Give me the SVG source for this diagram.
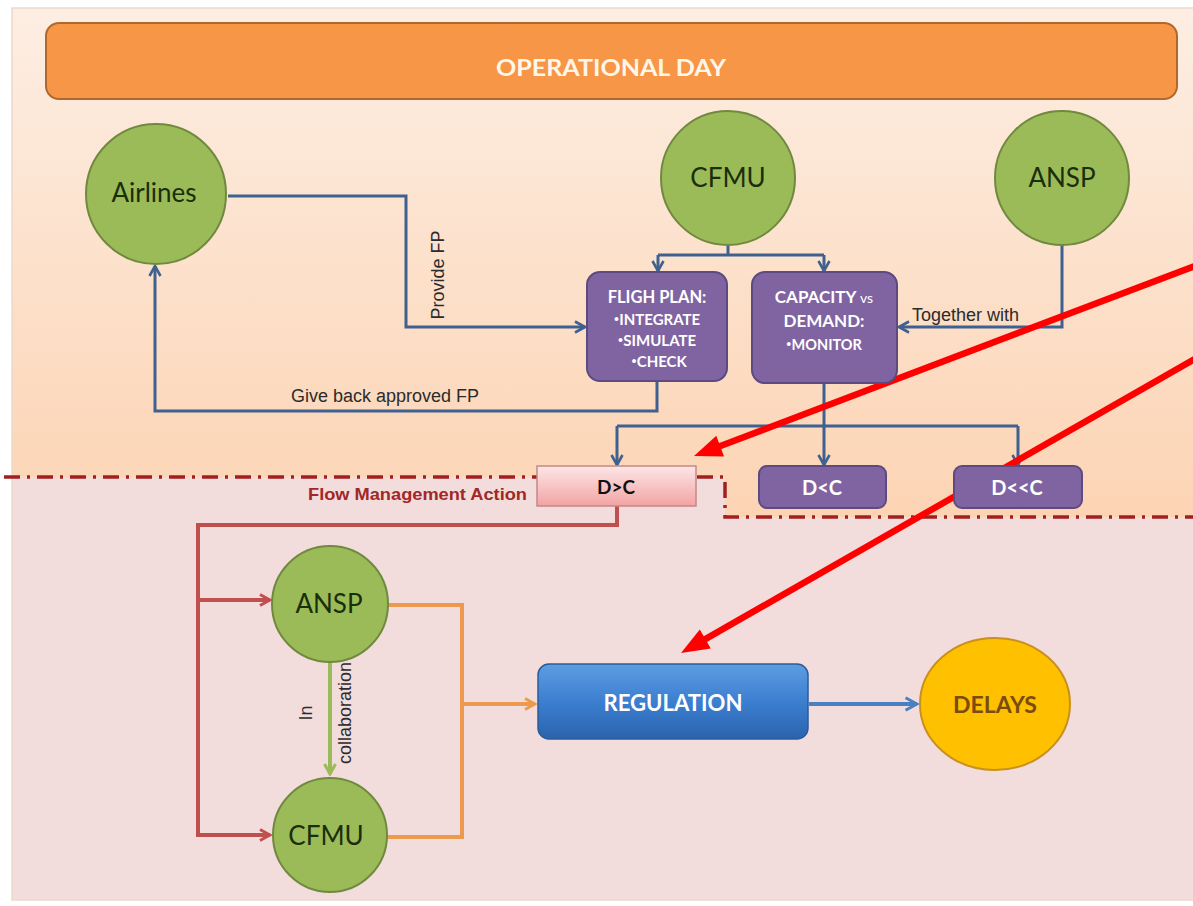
<svg xmlns="http://www.w3.org/2000/svg" width="1193" height="906" viewBox="0 0 1193 906">
  <defs>
    <linearGradient id="gUpper" x1="0" y1="0" x2="0" y2="1">
      <stop offset="0" stop-color="#fdeee3"/>
      <stop offset="1" stop-color="#fcd4b4"/>
    </linearGradient>
    <linearGradient id="gDC" x1="0" y1="0" x2="0" y2="1">
      <stop offset="0" stop-color="#fde6e6"/>
      <stop offset="1" stop-color="#f3a3a3"/>
    </linearGradient>
    <linearGradient id="gReg" x1="0" y1="0" x2="0" y2="1">
      <stop offset="0" stop-color="#5d9de2"/>
      <stop offset="0.5" stop-color="#3c7fd0"/>
      <stop offset="1" stop-color="#2a63ad"/>
    </linearGradient>
    <marker id="aBlue" viewBox="0 0 14 14" refX="12" refY="7" markerWidth="14" markerHeight="14" markerUnits="userSpaceOnUse" orient="auto">
      <path d="M2,1.5 L12,7 L2,12.5" fill="none" stroke="#3f6190" stroke-width="2.6"/>
    </marker>
    <marker id="aRed" viewBox="0 0 14 14" refX="12" refY="7" markerWidth="14" markerHeight="14" markerUnits="userSpaceOnUse" orient="auto">
      <path d="M2,1.5 L12,7 L2,12.5" fill="none" stroke="#c0504d" stroke-width="3"/>
    </marker>
    <marker id="aOrange" viewBox="0 0 14 14" refX="12" refY="7" markerWidth="14" markerHeight="14" markerUnits="userSpaceOnUse" orient="auto">
      <path d="M2,1.5 L12,7 L2,12.5" fill="none" stroke="#eb9a4e" stroke-width="3"/>
    </marker>
    <marker id="aGreen" viewBox="0 0 14 14" refX="12" refY="7" markerWidth="14" markerHeight="14" markerUnits="userSpaceOnUse" orient="auto">
      <path d="M2,1.5 L12,7 L2,12.5" fill="none" stroke="#9bbb59" stroke-width="3"/>
    </marker>
    <marker id="aBlue2" viewBox="0 0 14 14" refX="12" refY="7" markerWidth="16" markerHeight="16" markerUnits="userSpaceOnUse" orient="auto">
      <path d="M2,1.5 L12,7 L2,12.5" fill="none" stroke="#4a7fc0" stroke-width="2.6"/>
    </marker>
    <style>
      .circ { fill: #9bbb59; stroke: #71893f; stroke-width: 2; }
      .ctext { font-family: Lato, "Liberation Sans", sans-serif; font-size: 26px; fill: #1a2e0a; text-anchor: middle; }
      .pbox { fill: #8064a2; stroke: #5c4a80; stroke-width: 2; }
      .ptext { font-family: Lato, "Liberation Sans", sans-serif; font-weight: bold; fill: #ffffff; text-anchor: middle; }
      .dot { font-size: 20px; }
      .lbl { font-family: "Liberation Sans", Arial, sans-serif; font-size: 18px; fill: #2b2b2b; }
      .blue { fill: none; stroke: #3f6190; stroke-width: 3; }
      .red { fill: none; stroke: #c0504d; stroke-width: 4; }
      .orange { fill: none; stroke: #eb9a4e; stroke-width: 4; }
      .green { fill: none; stroke: #9bbb59; stroke-width: 4; }
      .dashdot { fill: none; stroke: #a31f1f; stroke-width: 3.5; stroke-dasharray: 16 7 3 7; }
      .bright { fill: none; stroke: #ff0000; stroke-width: 6.5; }
    </style>
  </defs>

  <!-- background -->
  <rect x="0" y="0" width="1193" height="906" fill="#ffffff"/>
  <path d="M12,8 H1193 V517 H725 V477 H12 Z" fill="url(#gUpper)"/>
  <path d="M12,477 H725 V517 H1193 V900 H12 Z" fill="#f2dcdc"/>
  <path d="M1193,8 H12 V900 H1193" fill="none" stroke="#ecd9cc" stroke-width="1.5"/>

  <!-- boundary dash-dot line -->
  <path class="dashdot" d="M4,477 H725 V517 H1193"/>

  <!-- header -->
  <g id="header">
    <rect x="46" y="23" width="1131" height="76" rx="13" fill="#f79646" stroke="#b0692c" stroke-width="2"/>
    <text x="611" y="76" font-family="Lato, 'Liberation Sans', sans-serif" font-weight="bold" font-size="22" fill="#fff6ea" text-anchor="middle" textLength="230" lengthAdjust="spacingAndGlyphs">OPERATIONAL DAY</text>
  </g>

  <!-- connectors -->
  <g id="connectors">
    <path class="blue" d="M228,196 H406 V327 H585" marker-end="url(#aBlue)"/>
    <path class="blue" d="M657,382 V411 H155 V266" marker-end="url(#aBlue)"/>
    <path class="blue" d="M728,244 V255"/>
    <path class="blue" d="M658,255 H824"/>
    <path class="blue" d="M658,255 V271" marker-end="url(#aBlue)"/>
    <path class="blue" d="M824,255 V271" marker-end="url(#aBlue)"/>
    <path class="blue" d="M1062,244 V327 H899" marker-end="url(#aBlue)"/>
    <path class="blue" d="M824,383 V426"/>
    <path class="blue" d="M617,426 H1018"/>
    <path class="blue" d="M617,426 V465" marker-end="url(#aBlue)"/>
    <path class="blue" d="M824,426 V465" marker-end="url(#aBlue)"/>
    <path class="blue" d="M1018,426 V465" marker-end="url(#aBlue)"/>
    <path class="red" d="M617,506 V525 H198 V835 H270" marker-end="url(#aRed)"/>
    <path class="red" d="M198,600 H270" marker-end="url(#aRed)"/>
    <path class="green" d="M330,662 V774" marker-end="url(#aGreen)"/>
    <path class="orange" d="M387,605 H462 V837 H387"/>
    <path class="orange" d="M462,704 H535" marker-end="url(#aOrange)"/>
    <path d="M809,704 H917" fill="none" stroke="#4a7fc0" stroke-width="4" marker-end="url(#aBlue2)"/>

    <text class="lbl" transform="translate(444,275) rotate(-90)" text-anchor="middle">Provide FP</text>
    <text class="lbl" x="385" y="402" text-anchor="middle">Give back approved FP</text>
    <text class="lbl" x="912" y="321">Together with</text>
    <text class="lbl" transform="translate(312,713) rotate(-90)" text-anchor="middle">In</text>
    <text class="lbl" transform="translate(351,713) rotate(-90)" text-anchor="middle">collaboration</text>
    <text x="527" y="500" font-family="'Liberation Sans', Arial, sans-serif" font-weight="bold" font-size="17" fill="#a02828" text-anchor="end" textLength="219" lengthAdjust="spacingAndGlyphs">Flow Management Action</text>

    <path class="bright" d="M1200,264 L716.4,447.5"/>
    <polygon points="694,456 724.1,456.4 716.3,435.8" fill="#ff0000"/>
    <path class="bright" d="M1200,356 L701.8,641.1"/>
    <polygon points="681,653 710.8,648.6 699.8,629.6" fill="#ff0000"/>
  </g>

  <!-- nodes -->
  <g id="airlines">
    <circle class="circ" cx="156" cy="194" r="70"/>
    <text class="ctext" x="154" y="202">Airlines</text>
  </g>
  <g id="cfmu-top">
    <circle class="circ" cx="728" cy="178" r="67"/>
    <text class="ctext" x="728" y="187">CFMU</text>
  </g>
  <g id="ansp-top">
    <circle class="circ" cx="1062" cy="178" r="67"/>
    <text class="ctext" x="1062" y="187">ANSP</text>
  </g>
  <g id="flight-plan">
    <rect class="pbox" x="587" y="272" width="140" height="109" rx="13"/>
    <text class="ptext" x="657" y="303" font-size="16.5">FLIGH PLAN:</text>
    <text class="ptext" x="657" y="325" font-size="15"><tspan class="dot">·</tspan>INTEGRATE</text>
    <text class="ptext" x="657" y="346" font-size="15"><tspan class="dot">·</tspan>SIMULATE</text>
    <text class="ptext" x="659" y="367" font-size="15"><tspan class="dot">·</tspan>CHECK</text>
  </g>
  <g id="capacity">
    <rect class="pbox" x="752" y="272" width="145" height="111" rx="13"/>
    <text class="ptext" x="824" y="303" font-size="17">CAPACITY <tspan font-weight="normal" font-size="14">vs</tspan></text>
    <text class="ptext" x="824" y="327" font-size="17">DEMAND:</text>
    <text class="ptext" x="824" y="350" font-size="14.5"><tspan class="dot">·</tspan>MONITOR</text>
  </g>
  <g id="d-gt-c">
    <rect x="537" y="466" width="159" height="40" fill="url(#gDC)" stroke="#c48888" stroke-width="1.5"/>
    <text x="616" y="494" font-family="Lato, 'Liberation Sans', sans-serif" font-weight="bold" font-size="19" fill="#111111" text-anchor="middle">D&gt;C</text>
  </g>
  <g id="d-lt-c">
    <rect class="pbox" x="759" y="466" width="127" height="42" rx="8"/>
    <text class="ptext" x="822" y="495" font-size="20">D&lt;C</text>
  </g>
  <g id="d-llt-c">
    <rect class="pbox" x="954" y="466" width="128" height="42" rx="8"/>
    <text class="ptext" x="1017" y="495" font-size="20">D&lt;&lt;C</text>
  </g>
  <g id="ansp-bottom">
    <circle class="circ" cx="330" cy="604" r="58"/>
    <text class="ctext" x="329" y="613">ANSP</text>
  </g>
  <g id="cfmu-bottom">
    <circle class="circ" cx="330" cy="835" r="57"/>
    <text class="ctext" x="326" y="845">CFMU</text>
  </g>
  <g id="regulation">
    <rect x="538" y="664" width="270" height="75" rx="11" fill="url(#gReg)" stroke="#2b5c9a" stroke-width="1.5"/>
    <text x="673" y="711" font-family="Lato, 'Liberation Sans', sans-serif" font-weight="bold" font-size="22" fill="#ffffff" text-anchor="middle" textLength="139" lengthAdjust="spacingAndGlyphs">REGULATION</text>
  </g>
  <g id="delays">
    <ellipse cx="995" cy="704" rx="75" ry="66" fill="#ffc000" stroke="#c8901e" stroke-width="2"/>
    <text x="995" y="713" font-family="Lato, 'Liberation Sans', sans-serif" font-weight="bold" font-size="23" fill="#7a4c10" text-anchor="middle">DELAYS</text>
  </g>
</svg>
